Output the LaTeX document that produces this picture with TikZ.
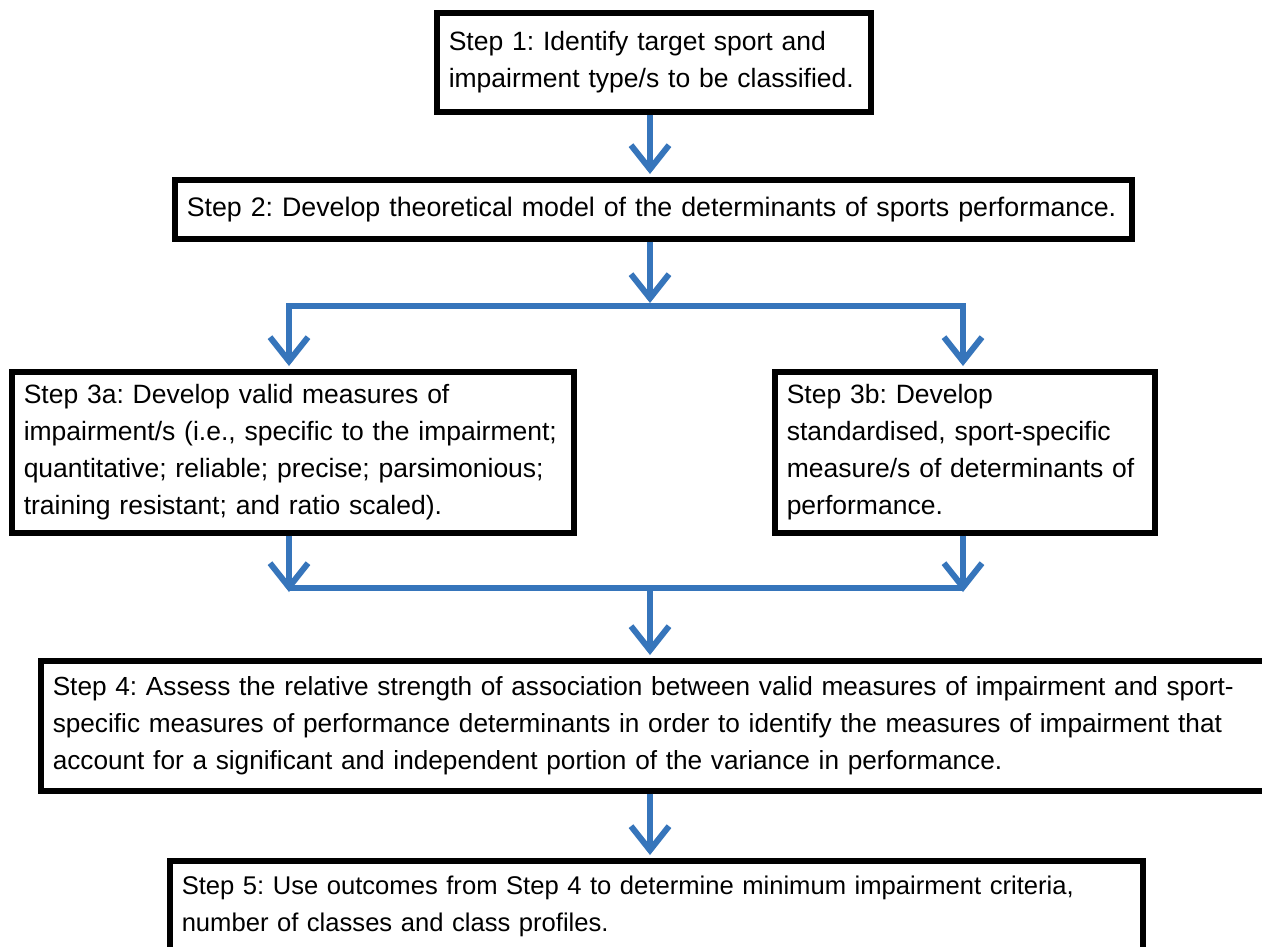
\documentclass[tikz,border=0pt]{standalone}
\usepackage{fontspec}
\setmainfont{Liberation Sans}
\usetikzlibrary{arrows.meta}
\definecolor{flowblue}{RGB}{54,117,187}
\frenchspacing
\tikzset{
  stepbox/.style={draw=black, line width=5.5pt, rectangle, anchor=north west,
    inner xsep=12pt, inner ysep=0pt, align=left,
    font=\fontsize{26.5}{37}\selectfont},
  textsize/.style={font=\fontsize{#1}{37}\selectfont},
  flow/.style={draw=flowblue, line width=6pt},
  flowarrow/.style={flow, -{Straight Barb[length=24pt, width=38pt]}},
}
\begin{document}
\begin{tikzpicture}[x=1pt, y=-1pt]
\clip (0,0) rectangle (1262,946);
\fill[white] (0,0) rectangle (1262,946);

% step boxes
\node[stepbox, minimum width=434pt, minimum height=99pt, text width=410pt]
  (s1) at (434,10) {Step 1: Identify target sport and\\impairment type/s to be classified.};
\node[stepbox, textsize=26.8, minimum width=957pt, minimum height=59pt, text width=933pt]
  (s2) at (172,177) {Step 2: Develop theoretical model of the determinants of sports performance.};
\node[stepbox, minimum width=562pt, minimum height=161pt, text width=538pt]
  (s3a) at (9,369) {Step 3a: Develop valid measures of\\impairment/s (i.e., specific to the impairment;\\quantitative; reliable; precise; parsimonious;\\training resistant; and ratio scaled).};
\node[stepbox, minimum width=380pt, minimum height=161pt, text width=356pt]
  (s3b) at (772,369) {Step 3b: Develop\\standardised, sport-specific\\measure/s of determinants of\\performance.};
\node[stepbox, textsize=26.2, minimum width=1237pt, minimum height=130pt, text width=1213pt]
  (s4) at (38,658) {Step 4: Assess the relative strength of association between valid measures of impairment and sport-\\specific measures of performance determinants in order to identify the measures of impairment that\\account for a significant and independent portion of the variance in performance.};
\node[stepbox, textsize=25.6, minimum width=973pt, minimum height=91pt, text width=949pt]
  (s5) at (167,858) {Step 5: Use outcomes from Step 4 to determine minimum impairment criteria,\\number of classes and class profiles.};

% junction points of the split and the merge
\coordinate (split) at (650,306);
\coordinate (splitL) at (289,306);
\coordinate (splitR) at (963,306);
\coordinate (merge) at (650,588);
\coordinate (mergeL) at (289,588);
\coordinate (mergeR) at (963,588);

% connectors
\draw[flowarrow, shorten >=3pt] (s1.south -| split) -- (s2.north -| split);
\draw[flowarrow, shorten >=3pt] (s2.south -| split) -- (split);
\draw[flow, line cap=rect] (splitL) -- (splitR);
\draw[flowarrow, shorten >=3pt] (splitL) -- (s3a.north -| splitL);
\draw[flowarrow, shorten >=3pt] (splitR) -- (s3b.north -| splitR);
\draw[flowarrow, shorten >=-4pt] (s3a.south -| mergeL) -- (mergeL);
\draw[flowarrow, shorten >=-4pt] (s3b.south -| mergeR) -- (mergeR);
\draw[flow] (mergeL) -- (mergeR);
\draw[flowarrow, shorten >=3pt] (merge) -- (s4.north -| merge);
\draw[flowarrow, shorten >=3pt] (s4.south -| merge) -- (s5.north -| merge);
\end{tikzpicture}
\end{document}
